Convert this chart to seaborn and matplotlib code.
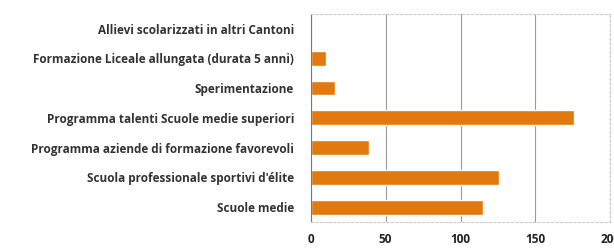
import pandas as pd
import matplotlib.pyplot as plt
import seaborn as sns

categorie = ['Allievi scolarizzati in altri Cantoni',
             'Formazione Liceale allungata (durata 5 anni)',
             'Sperimentazione',
             'Programma talenti Scuole medie superiori',
             'Programma aziende di formazione favorevoli',
             "Scuola professionale sportivi d'élite",
             'Scuole medie']
valori = [0, 10, 16, 176, 39, 126, 115]
xticks = [0, 50, 100, 150, 200]

df = pd.DataFrame({'categoria': categorie, 'valore': valori})

sns.set_style('white')
plt.rcParams['font.family'] = ['Open Sans', 'DejaVu Sans']

fig = plt.figure(figsize=(6.14, 2.48), dpi=100)
ax = fig.add_axes([0.506, 0.105, 0.488, 0.84])
sns.barplot(x='valore', y='categoria', data=df, color='#E2790F', saturation=1,
            width=0.5, ax=ax)
ax.set_xlim(0, 200)
ax.set_xticks(xticks)
ax.set_xlabel('')
ax.set_ylabel('')
ax.grid(axis='x', color='#9a9a9a', linewidth=0.8)
ax.set_axisbelow(True)
for s in ['top', 'right', 'bottom']:
    ax.spines[s].set_color('#cccccc')
    ax.spines[s].set_linestyle((0, (2, 2)))
    ax.spines[s].set_linewidth(0.8)
ax.spines['left'].set_color('#777777')
ax.tick_params(axis='y', labelsize=8.5, pad=12, length=0)
ax.tick_params(axis='x', labelsize=8.5, pad=8, length=0)
for t in ax.get_yticklabels():
    t.set_fontweight('bold')
    t.set_color('#333333')
for t in ax.get_xticklabels():
    t.set_fontweight('bold')
    t.set_color('#222222')

plt.savefig('out.png', dpi=100)
